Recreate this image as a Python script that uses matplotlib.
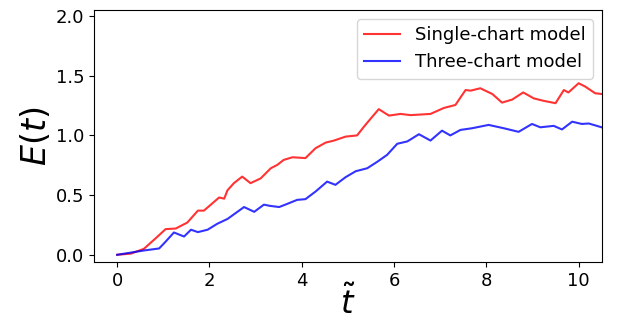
import numpy as np
import matplotlib
matplotlib.use("Agg")
import matplotlib.pyplot as plt

# Single-chart model
t_single = [0, 0.3, 0.58, 0.84, 1.05, 1.27, 1.52, 1.75, 1.88, 2.03, 2.21, 2.32, 2.39, 2.53,
            2.71, 2.89, 3.11, 3.33, 3.47, 3.61, 3.8, 4.08, 4.3, 4.52, 4.7, 4.95, 5.2, 5.35,
            5.53, 5.67, 5.89, 6.14, 6.36, 6.79, 7.08, 7.33, 7.55, 7.66, 7.87, 8.13, 8.34,
            8.56, 8.8, 9.03, 9.24, 9.5, 9.68, 9.78, 10.0, 10.14, 10.36, 10.5]
e_single = [0.0, 0.01, 0.05, 0.14, 0.215, 0.22, 0.27, 0.37, 0.37, 0.42, 0.48, 0.47, 0.54, 0.6,
            0.655, 0.6, 0.64, 0.725, 0.753, 0.795, 0.817, 0.81, 0.893, 0.94, 0.957, 0.99, 1.0, 1.074,
            1.157, 1.22, 1.166, 1.18, 1.17, 1.18, 1.23, 1.255, 1.38, 1.375, 1.395, 1.347, 1.275,
            1.3, 1.36, 1.31, 1.29, 1.27, 1.38, 1.36, 1.437, 1.41, 1.353, 1.347]

# Three-chart model
t_three = [0, 0.58, 0.91, 1.05, 1.23, 1.45, 1.6, 1.75, 1.96, 2.17, 2.39, 2.75, 2.97, 3.18,
           3.31, 3.51, 3.69, 3.9, 4.08, 4.3, 4.55, 4.73, 4.95, 5.17, 5.42, 5.64, 5.85, 6.07,
           6.29, 6.54, 6.79, 7.04, 7.22, 7.44, 7.69, 8.05, 8.38, 8.7, 8.99, 9.17, 9.46, 9.64,
           9.86, 10.07, 10.22, 10.5]
e_three = [0.0, 0.036, 0.053, 0.11, 0.187, 0.153, 0.21, 0.19, 0.21, 0.26, 0.3, 0.4, 0.36, 0.42,
           0.41, 0.4, 0.427, 0.46, 0.466, 0.53, 0.613, 0.586, 0.65, 0.7, 0.725, 0.78, 0.837, 0.93,
           0.95, 1.01, 0.957, 1.04, 1.0, 1.046, 1.06, 1.088, 1.06, 1.03, 1.096, 1.068, 1.08, 1.05,
           1.115, 1.096, 1.1, 1.068]

fig = plt.figure(figsize=(6.19, 3.25), dpi=100)
ax = fig.add_axes([0.152, 0.194, 0.820, 0.775])
ax.plot(t_single, e_single, color='r', alpha=0.8, lw=1.5, label='Single-chart model')
ax.plot(t_three, e_three, color='b', alpha=0.8, lw=1.5, label='Three-chart model')
ax.set_xlim(-0.5, 10.5)
ax.set_ylim(-0.06, 2.05)
ax.set_xticks([0, 2, 4, 6, 8, 10])
ax.set_yticks([0.0, 0.5, 1.0, 1.5, 2.0])
ax.tick_params(labelsize=13)
ax.set_xlabel(r'$\tilde{t}$', fontsize=23, labelpad=-3)
ax.set_ylabel(r'$E(t)$', fontsize=24, labelpad=2)
ax.legend(loc='upper right', fontsize=13)
fig.savefig('out.png', dpi=100)
